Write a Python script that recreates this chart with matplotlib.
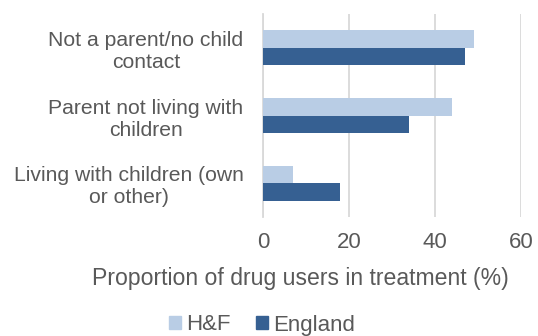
import numpy as np
import matplotlib.pyplot as plt
from matplotlib.patches import Patch

plt.rcParams['font.family'] = ['Liberation Sans', 'DejaVu Sans']

categories = ['Not a parent/no child\ncontact',
              'Parent not living with\nchildren',
              'Living with children (own\nor other)']
hf_values = [49, 44, 7]
england_values = [47, 34, 18]

hf_color = '#b9cde5'
england_color = '#366092'
text_color = '#595959'
grid_color = '#d9d9d9'

fig = plt.figure(figsize=(5.38, 3.36), dpi=100)
ax = fig.add_axes([263 / 538, 1 - 217 / 336, 258 / 538, 203 / 336])

y = np.arange(len(categories))
h = 0.26
ax.barh(y - h / 2, hf_values, height=h, color=hf_color, zorder=3)
ax.barh(y + h / 2, england_values, height=h, color=england_color, zorder=3)

ax.set_xlim(0, 60)
ax.set_ylim(2.5, -0.5)
ax.set_xticks([0, 20, 40, 60])
ax.set_yticks(y)
ax.set_yticklabels(categories, multialignment='center')

ax.xaxis.grid(True, color=grid_color, linewidth=1.3, zorder=0)
for side in ['top', 'right', 'bottom']:
    ax.spines[side].set_visible(False)
ax.spines['left'].set_color(grid_color)
ax.spines['left'].set_linewidth(1.3)

ax.tick_params(axis='x', length=0, pad=11, labelsize=16, labelcolor=text_color)
ax.tick_params(axis='y', length=0, pad=14, labelsize=15.2, labelcolor=text_color)

# axis title sits centred under the whole chart, not just the plot area
fig.text(300 / 538, 1 - 279 / 336, 'Proportion of drug users in treatment (%)',
         ha='center', va='center', fontsize=16.6, color=text_color)

handles = [Patch(color=hf_color, label='H&F'),
           Patch(color=england_color, label='England')]
fig.legend(handles=handles, loc='center', ncol=2, frameon=False,
           bbox_to_anchor=(262 / 538, 1 - 325 / 336), fontsize=16,
           labelcolor=text_color, handlelength=0.55, handleheight=0.55,
           handletextpad=0.25, columnspacing=1.1)

fig.savefig('out.png', dpi=100)
